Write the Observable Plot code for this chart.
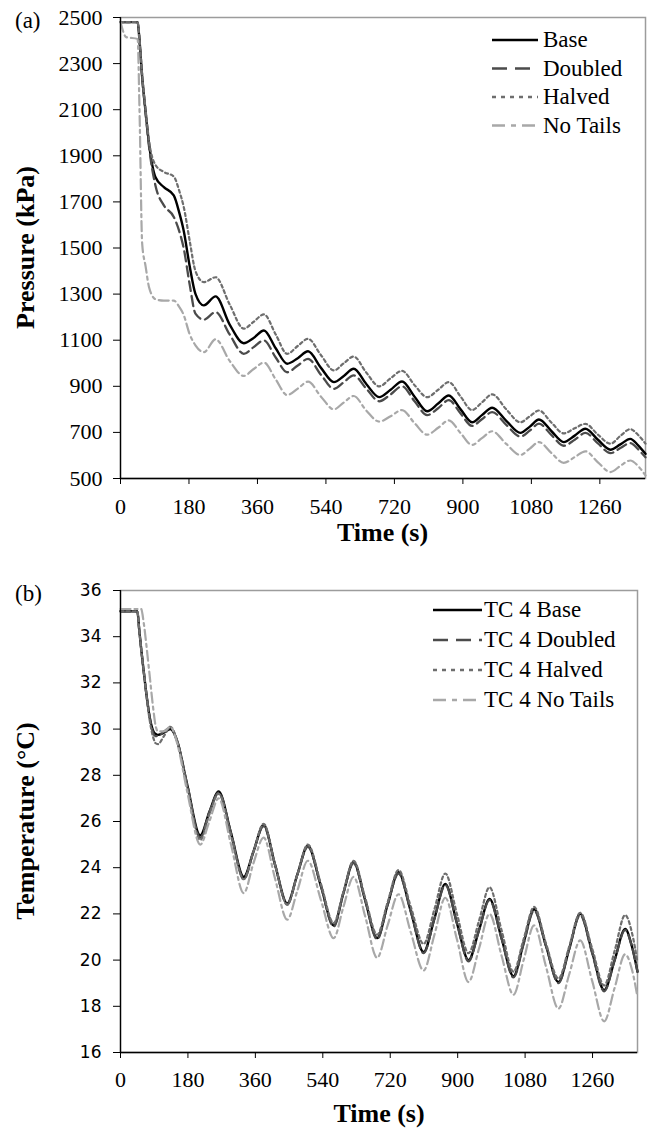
<!DOCTYPE html>
<html><head><meta charset="utf-8">
<script src="https://cdn.jsdelivr.net/npm/d3@7"></script>
<script src="https://cdn.jsdelivr.net/npm/@observablehq/plot@0.6"></script>
<style>
body{margin:0;background:#fff;}
#wrap{position:relative;width:653px;height:1128px;background:#fff;overflow:hidden;}
#wrap > svg{display:block;}
</style></head><body><div id="wrap"></div>
<script>
// ---------- Panel (a): pressure ----------
const timeA = [0, 15, 45, 50, 57, 66, 75, 92, 114, 140, 155, 166, 182, 197, 219, 250, 287, 324, 350, 377, 408, 438, 466, 493, 527, 561, 587, 613, 646, 680, 710, 740, 773, 806, 835, 863, 894, 924, 950, 977, 1014, 1051, 1076, 1100, 1133, 1165, 1194, 1222, 1255, 1288, 1314, 1340, 1360, 1380];
const pBase = [2480, 2480, 2480, 2400, 2241, 2090, 1952, 1807, 1764, 1728, 1650, 1576, 1420, 1301, 1251, 1290, 1168, 1087, 1110, 1142, 1065, 998, 1022, 1052, 980, 918, 945, 976, 910, 853, 885, 921, 855, 792, 825, 860, 800, 744, 775, 807, 750, 698, 725, 756, 705, 658, 686, 716, 668, 625, 648, 672, 645, 607];
const pDoubled = [2480, 2480, 2480, 2400, 2241, 2085, 1940, 1770, 1685, 1635, 1570, 1500, 1340, 1215, 1189, 1222, 1125, 1041, 1070, 1099, 1025, 961, 990, 1019, 950, 889, 918, 947, 890, 835, 865, 900, 835, 775, 805, 840, 782, 728, 757, 788, 733, 682, 708, 738, 688, 642, 668, 698, 652, 610, 632, 654, 628, 592];
const pHalved = [2480, 2480, 2480, 2400, 2250, 2100, 1965, 1860, 1830, 1810, 1745, 1680, 1530, 1400, 1352, 1373, 1255, 1150, 1180, 1212, 1125, 1041, 1075, 1106, 1035, 969, 1000, 1029, 960, 900, 935, 967, 905, 853, 885, 918, 855, 797, 830, 865, 800, 744, 770, 795, 742, 696, 718, 737, 690, 651, 685, 714, 690, 651];
const pNoTails = [2480, 2415, 2407, 2096, 1518, 1420, 1330, 1278, 1272, 1272, 1243, 1210, 1125, 1078, 1048, 1104, 1010, 945, 975, 1003, 930, 862, 890, 920, 855, 800, 830, 858, 795, 747, 770, 797, 740, 690, 720, 752, 697, 646, 675, 705, 650, 602, 630, 658, 610, 568, 593, 618, 570, 528, 555, 578, 555, 513];

// ---------- Panel (b): temperature ----------
const timeB = [0, 45, 50, 55, 62, 70, 76, 88, 93, 100, 116, 133, 151, 178, 213, 237, 262, 295, 329, 355, 382, 413, 445, 472, 500, 535, 569, 595, 622, 653, 685, 713, 742, 775, 809, 838, 867, 898, 929, 957, 985, 1017, 1049, 1076, 1104, 1136, 1169, 1198, 1227, 1259, 1291, 1319, 1347, 1365, 1380];
const tBase = [35.1, 35.1, 34.3, 33.5, 32.5, 31.4, 30.7, 29.9, 29.8, 29.75, 29.85, 30.0, 29.5, 27.6, 25.4, 26.4, 27.3, 25.5, 23.6, 24.7, 25.85, 24.1, 22.45, 23.7, 24.95, 23.2, 21.5, 22.9, 24.25, 22.6, 20.95, 22.4, 23.8, 22.1, 20.35, 21.8, 23.3, 21.6, 20.0, 21.3, 22.65, 20.95, 19.3, 20.75, 22.2, 20.6, 19.05, 20.5, 22.0, 20.35, 18.7, 20.0, 21.35, 20.6, 19.5];
const tDoubled = [35.1, 35.1, 34.3, 33.5, 32.5, 31.4, 30.7, 29.8, 29.7, 29.7, 29.9, 30.05, 29.5, 27.6, 25.3, 26.4, 27.25, 25.5, 23.5, 24.7, 25.8, 24.1, 22.4, 23.7, 24.9, 23.2, 21.45, 22.9, 24.2, 22.6, 20.9, 22.4, 23.75, 22.1, 20.3, 21.8, 23.25, 21.6, 19.95, 21.3, 22.6, 20.95, 19.25, 20.7, 22.15, 20.6, 19.0, 20.5, 21.95, 20.3, 18.65, 20.0, 21.3, 20.6, 19.5];
const tHalved = [35.1, 35.1, 34.3, 33.5, 32.5, 31.4, 30.6, 29.6, 29.4, 29.35, 29.7, 30.1, 29.5, 27.5, 25.2, 26.3, 27.2, 25.4, 23.5, 24.7, 25.9, 24.1, 22.4, 23.7, 25.0, 23.3, 21.6, 22.95, 24.3, 22.7, 21.1, 22.5, 23.9, 22.3, 20.7, 22.2, 23.75, 22.0, 20.3, 21.7, 23.15, 21.3, 19.5, 20.9, 22.3, 20.7, 19.2, 20.6, 22.05, 20.5, 18.9, 20.4, 21.95, 21.2, 19.9];
const tNoTails = [35.2, 35.2, 35.2, 35.2, 34.6, 33.5, 32.6, 30.8, 30.2, 29.9, 29.9, 30.1, 29.4, 27.3, 25.0, 26.0, 27.0, 25.0, 22.9, 24.2, 25.3, 23.5, 21.75, 23.0, 24.3, 22.6, 20.95, 22.3, 23.6, 21.9, 20.1, 21.5, 22.85, 21.2, 19.55, 21.1, 22.7, 20.9, 19.05, 20.5, 22.0, 20.2, 18.5, 20.0, 21.5, 19.7, 17.9, 19.4, 20.85, 19.1, 17.35, 18.8, 20.25, 19.6, 18.4];

// ---------- ticks & labels ----------
const xTicks = [0, 180, 360, 540, 720, 900, 1080, 1260];
const yTicksA = [500, 700, 900, 1100, 1300, 1500, 1700, 1900, 2100, 2300, 2500];
const yTicksB = [16, 18, 20, 22, 24, 26, 28, 30, 32, 34, 36];
const seriesNames = ["Base", "Doubled", "Halved", "No Tails"];
const legendB = ["TC 4 Base", "TC 4 Doubled", "TC 4 Halved", "TC 4 No Tails"];

// ---------- styles ----------
const serif = "'Liberation Serif','Times New Roman',serif";
const sans = "'DejaVu Sans',sans-serif";
const styles = [
  {stroke: "#000000", width: 2.4, dash: undefined, legendDash: "none"},
  {stroke: "#4b4b4b", width: 2.3, dash: "10,5", legendDash: "15,8"},
  {stroke: "#6e6e6e", width: 2.2, dash: "3,3", legendDash: "4,5"},
  {stroke: "#a8a8a8", width: 2.2, dash: "10,4,3,4", legendDash: "13,6,5,6"}
];

const dataA = timeA.map((t, i) => ({t, s0: pBase[i], s1: pDoubled[i], s2: pHalved[i], s3: pNoTails[i]}));
const dataB = timeB.map((t, i) => ({t, s0: tBase[i], s1: tDoubled[i], s2: tHalved[i], s3: tNoTails[i]}));

function lines(data) {
  return styles.map((st, i) => Plot.line(data, {
    x: "t", y: "s" + i, stroke: st.stroke, strokeWidth: st.width,
    strokeDasharray: st.dash, curve: "monotone-x", strokeLinejoin: "round"
  }));
}

const fmt = d3.format("d");

const chartA = Plot.plot({
  width: 653, height: 550,
  marginLeft: 120, marginRight: 8, marginTop: 17, marginBottom: 72,
  x: {domain: [0, 1380]},
  y: {domain: [500, 2500]},
  style: {background: "white", color: "black", fontFamily: serif},
  marks: [
    Plot.frame({stroke: "#9c9c9c", strokeWidth: 1.5}),
    ...lines(dataA),
    Plot.ruleX([0], {stroke: "black", strokeWidth: 1.3}),
    Plot.ruleY([500], {stroke: "black", strokeWidth: 1.3}),
    Plot.axisY({ticks: yTicksA, tickFormat: fmt, tickSize: 7, tickPadding: 11, fontSize: 22, color: "black", label: null}),
    Plot.axisX({ticks: xTicks, tickFormat: fmt, tickSize: 6, tickPadding: 14, fontSize: 22, color: "black", label: null})
  ]
});

const chartB = Plot.plot({
  width: 653, height: 578,
  marginLeft: 120, marginRight: 16, marginTop: 40, marginBottom: 76,
  x: {domain: [0, 1380]},
  y: {domain: [16, 36]},
  style: {background: "white", color: "black", fontFamily: serif},
  marks: [
    Plot.frame({stroke: "#9c9c9c", strokeWidth: 1.5}),
    ...lines(dataB),
    Plot.ruleX([0], {stroke: "black", strokeWidth: 1.3}),
    Plot.ruleY([16], {stroke: "black", strokeWidth: 1.3}),
    Plot.axisY({ticks: yTicksB, tickFormat: fmt, tickSize: 7, tickPadding: 12, fontSize: 17, color: "black", label: null}),
    Plot.axisX({ticks: xTicks, tickFormat: fmt, tickSize: 6, tickPadding: 13, fontSize: 22, color: "black", label: null})
  ]
});

// force fonts on tick labels
d3.select(chartA).selectAll("text").style("font-family", serif);
d3.select(chartB).selectAll("text").style("font-family", serif);
d3.select(chartB).selectAll('g[aria-label^="y-axis"] text').style("font-family", sans);

const wrap = document.getElementById("wrap");
wrap.appendChild(chartA);
wrap.appendChild(chartB);

// ---------- overlay: titles, panel labels, legends ----------
const ov = d3.select(wrap).append("svg")
  .attr("width", 653).attr("height", 1128)
  .style("position", "absolute").style("left", "0px").style("top", "0px")
  .style("pointer-events", "none")
  .style("font-family", serif).attr("fill", "black");

function addText(txt, x, y, opts = {}) {
  const t = ov.append("text").attr("x", x).attr("y", y).text(txt)
    .attr("font-size", opts.size || 23)
    .attr("font-weight", opts.bold ? "bold" : "normal")
    .attr("text-anchor", opts.anchor || "start");
  if (opts.rotate) t.attr("transform", `rotate(${opts.rotate},${x},${y})`);
  return t;
}

addText("(a)", 15, 28, {size: 23});
addText("(b)", 15, 601, {size: 23});
addText("Pressure (kPa)", 34, 247.5, {size: 26, bold: true, anchor: "middle", rotate: -90});
addText("Temperature (\u00B0C)", 34, 821, {size: 26, bold: true, anchor: "middle", rotate: -90});
addText("Time (s)", 382.5, 541, {size: 26, bold: true, anchor: "middle"});
addText("Time (s)", 379, 1122, {size: 26, bold: true, anchor: "middle"});

function legend(names, x0, x1, tx, y0, step) {
  names.forEach((n, i) => {
    const y = y0 + i * step;
    const st = styles[i];
    ov.append("line").attr("x1", x0).attr("x2", x1).attr("y1", y).attr("y2", y)
      .attr("stroke", st.stroke).attr("stroke-width", st.width + 0.3)
      .attr("stroke-dasharray", st.legendDash);
    addText(n, tx, y + 7, {size: 23});
  });
}
legend(seriesNames, 492, 538, 543, 40, 28.5);
legend(legendB, 433, 482, 484, 610, 30);
</script></body></html>
